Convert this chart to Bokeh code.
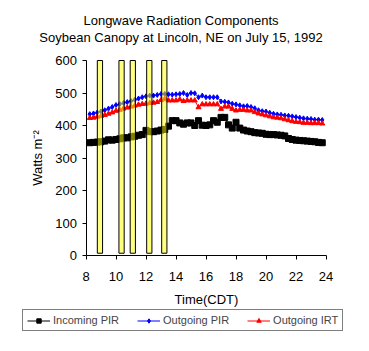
from bokeh.plotting import figure
from bokeh.models import Legend, LegendItem, Label, FixedTicker, ColumnDataSource
from bokeh.embed import file_html
from bokeh.resources import INLINE

# ---- data ----
hours = [8.25, 8.5, 8.75, 9.0, 9.25, 9.5, 9.75, 10.0, 10.25, 10.5, 10.75, 11.0,
         11.25, 11.5, 11.75, 12.0, 12.25, 12.5, 12.75, 13.0, 13.25, 13.5, 13.75,
         14.0, 14.25, 14.5, 14.75, 15.0, 15.25, 15.5, 15.75, 16.0, 16.25, 16.5,
         16.75, 17.0, 17.25, 17.5, 17.75, 18.0, 18.25, 18.5, 18.75, 19.0, 19.25,
         19.5, 19.75, 20.0, 20.25, 20.5, 20.75, 21.0, 21.25, 21.5, 21.75, 22.0,
         22.25, 22.5, 22.75, 23.0, 23.25, 23.5, 23.75]

incoming_pir = [347, 348, 349, 350, 352, 356, 355, 357, 359, 362, 362, 365,
                367, 370, 372, 385, 381, 381, 383, 386, 388, 398, 415,
                415, 408, 404, 408, 408, 400, 415, 401, 400, 402, 415,
                410, 425, 425, 402, 392, 410, 392, 386, 383, 381, 378,
                377, 376, 373, 372, 372, 371, 370, 368, 360, 357, 355,
                354, 353, 352, 351, 350, 348, 347]

outgoing_pir = [435, 437, 440, 443, 447, 452, 457, 463, 466, 469, 472, 475,
                479, 483, 487, 490, 492, 492, 494, 497, 497, 496, 495,
                496, 497, 500, 494, 500, 499, 487, 492, 487, 487, 487,
                487, 474, 473, 471, 467, 465, 462, 459, 460, 457, 453,
                447, 444, 443, 439, 436, 434, 433, 431, 430, 428, 426,
                424, 422, 421, 420, 418, 418, 417]

outgoing_irt = [423, 424, 427, 429, 432, 436, 440, 445, 448, 452, 455, 458,
                461, 464, 466, 467, 469, 470, 472, 478, 482, 477, 477,
                477, 480, 475, 477, 477, 477, 456, 465, 465, 465, 465,
                465, 451, 458, 458, 451, 446, 448, 448, 446, 446, 441,
                437, 434, 431, 428, 425, 424, 422, 419, 416, 413, 411,
                410, 408, 408, 407, 407, 407, 406]

bar_hours = [8.93, 10.37, 11.12, 12.22, 13.22]
bar_top = [600, 600, 600, 600, 600]
bar_bottom = [7, 7, 7, 7, 7]

x_ticks = [8, 10, 12, 14, 16, 18, 20, 22, 24]
y_ticks = [0, 100, 200, 300, 400, 500, 600]

title_lines = ["Longwave Radiation Components",
               "Soybean Canopy at Lincoln, NE on July 15, 1992"]

FONT = "Liberation Sans"

# The frame fills the whole canvas; axes are pinned at x=8 / y=0 so the
# title and the legend (outside the 8-24 / 0-600 area) stay inside the frame.
W, H = 369, 351
left_px, right_px, top_px, bottom_px = 85.5, 325.5, 60.0, 255.0
x0, x1 = x_ticks[0], x_ticks[-1]
y0, y1 = y_ticks[0], y_ticks[-1]
xs = (x1 - x0) / (right_px - left_px)
ys = (y1 - y0) / (bottom_px - top_px)
x_range = (x0 - left_px * xs, x1 + (W - right_px) * xs)
y_range = (y0 - (H - bottom_px) * ys, y1 + top_px * ys)

p = figure(width=W, height=H, x_range=x_range, y_range=y_range,
           output_backend="svg", toolbar_location=None, min_border=0)
p.outline_line_color = None
p.grid.visible = False
p.background_fill_color = "white"
p.border_fill_color = "white"

src = ColumnDataSource(dict(h=hours, a=incoming_pir, b=outgoing_pir, c=outgoing_irt))

l1 = p.line("h", "a", source=src, color="black", line_width=1)
s1 = p.scatter("h", "a", source=src, marker="square", size=6, color="black")
l2 = p.line("h", "b", source=src, color="blue", line_width=1)
s2 = p.scatter("h", "b", source=src, marker="diamond", size=5, color="blue")
l3 = p.line("h", "c", source=src, color="red", line_width=1)
s3 = p.scatter("h", "c", source=src, marker="triangle", size=5, color="red")

p.vbar(x=bar_hours, top=bar_top, bottom=bar_bottom, width=0.35,
       fill_color="yellow", fill_alpha=0.5, line_color="black", line_width=1)

p.xaxis.ticker = FixedTicker(ticks=x_ticks)
p.yaxis.ticker = FixedTicker(ticks=y_ticks)
p.xaxis.fixed_location = y0
p.yaxis.fixed_location = x0
p.xaxis.bounds = (x0, x1)
p.yaxis.bounds = (y0, y1)
for ax in (p.xaxis, p.yaxis):
    ax.minor_tick_line_color = None
    ax.major_tick_in = 0
    ax.major_tick_out = 4
    ax.axis_line_color = "black"
    ax.major_tick_line_color = "black"
    ax.major_label_text_color = "black"
    ax.major_label_text_font = FONT
    ax.major_label_text_font_size = "13px"
    ax.axis_label_text_font = FONT
    ax.axis_label_text_font_size = "13px"
    ax.axis_label_text_font_style = "normal"
    ax.axis_label_text_color = "black"

p.xaxis.axis_label = "Time(CDT)"
p.yaxis.axis_label = "Watts m\u207b\u00b2"
p.xaxis.major_label_standoff = 12
p.xaxis.axis_label_standoff = 8
p.yaxis.major_label_standoff = 5
p.yaxis.axis_label_standoff = 8

p.title.visible = False
for txt, sy in zip(title_lines, (331, 314)):
    p.add_layout(Label(x=180.5, y=sy, x_units="screen", y_units="screen",
                       text=txt, text_align="center", text_baseline="middle",
                       text_font=FONT, text_font_size="13px", text_color="black"))

legend = Legend(items=[LegendItem(label="Incoming PIR", renderers=[l1, s1]),
                       LegendItem(label="Outgoing PIR", renderers=[l2, s2]),
                       LegendItem(label="Outgoing IRT", renderers=[l3, s3])],
                orientation="horizontal", location=(22, 20), margin=0,
                padding=4, spacing=18, glyph_width=23, glyph_height=11,
                label_height=11, label_standoff=3,
                label_text_font=FONT, label_text_font_size="11px",
                border_line_color="black", border_line_width=1,
                background_fill_color="white", background_fill_alpha=1)
p.add_layout(legend)

open("out.html", "w").write(file_html(p, INLINE))
